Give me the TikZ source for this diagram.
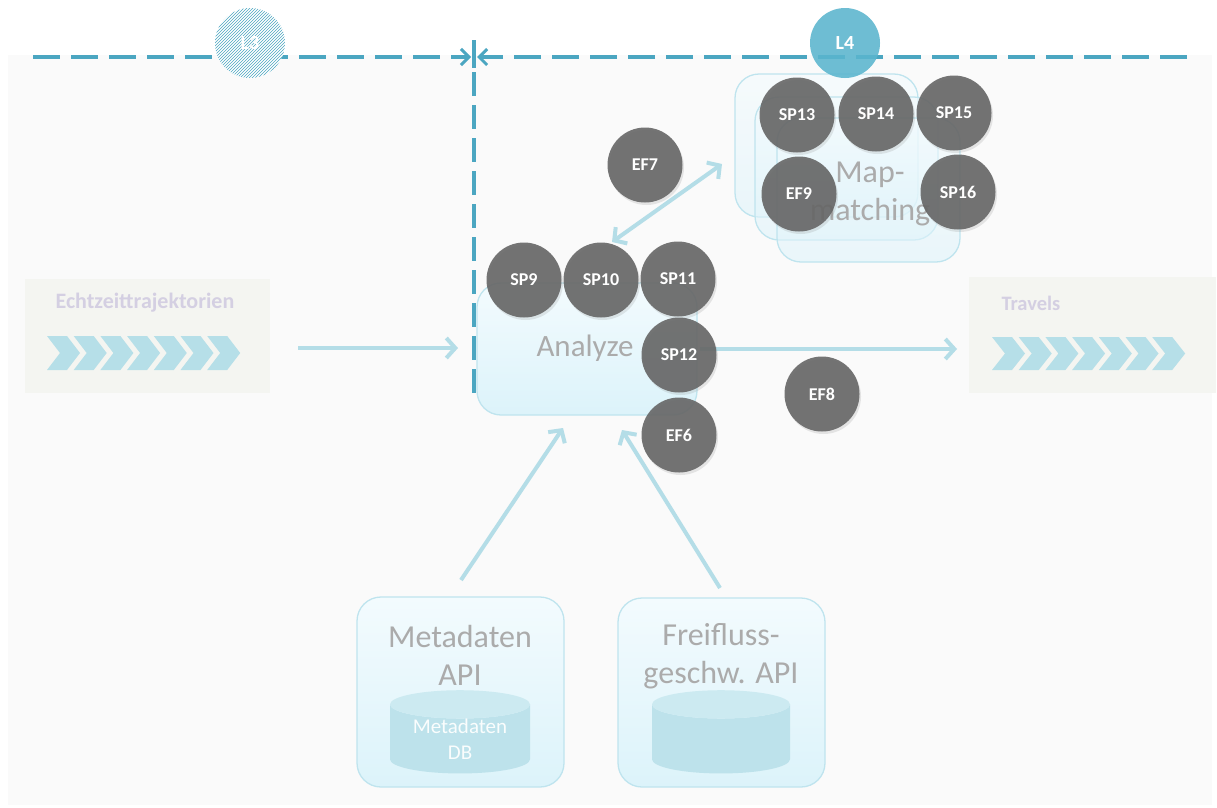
\documentclass[tikz,border=0pt]{standalone}
\usepackage{fontspec}
\setmainfont{Carlito}
\usetikzlibrary{arrows.meta,shapes.geometric,patterns,shadows}
\definecolor{dashcol}{HTML}{4BA6C1}
\definecolor{flow}{HTML}{B4DDE7}
\definecolor{dotgray}{HTML}{666666}
\definecolor{boxtop}{HTML}{F3FBFE}
\definecolor{boxbot}{HTML}{DCF3FA}
\definecolor{boxline}{HTML}{BFE4EE}
\definecolor{labgray}{HTML}{ABABAB}
\definecolor{panelcol}{HTML}{F4F5F1}
\definecolor{lav}{HTML}{D4CFE2}
\definecolor{chev}{HTML}{B6DFE8}
\definecolor{dbbody}{HTML}{BDE2EB}
\definecolor{dbtop}{HTML}{CCEAF1}
\definecolor{lfour}{HTML}{5AB5CE}
\definecolor{bgpanel}{HTML}{FAFAFA}
\begin{document}
\begin{tikzpicture}[x=1pt,y=-1pt,
  dot/.style={circle, minimum size=75pt, inner sep=0pt, fill=dotgray, fill opacity=0.9,
    text opacity=1, text=white, font=\bfseries\fontsize{18}{20}\selectfont,
    drop shadow={opacity=0.18, shadow xshift=1.5pt, shadow yshift=-2.5pt}},
  flowarrow/.style={draw=flow, line width=4pt, -{Straight Barb[length=9pt,width=20pt,line width=4pt]}},
  flowboth/.style={draw=flow, line width=4pt, {Straight Barb[length=9pt,width=20pt,line width=4pt]}-{Straight Barb[length=9pt,width=20pt,line width=4pt]}},
  dashline/.style={draw=dashcol, line width=4pt, dash pattern=on 27pt off 11pt},
  apibox/.style={rectangle, rounded corners=24pt, draw=boxline, line width=1.3pt, top color=boxtop, bottom color=boxbot, inner sep=0pt},
  mmbox/.style={apibox, fill opacity=0.55, minimum width=183pt, minimum height=143pt},
  bigtext/.style={text=labgray, align=center, font=\fontsize{32}{38}\selectfont},
  panelbox/.style={rectangle, fill=panelcol, inner sep=0pt},
  paneltext/.style={text=lav, anchor=west, font=\bfseries\fontsize{20.5}{23}\selectfont},
  db/.style={cylinder, shape border rotate=90, aspect=0.3, minimum width=140pt, minimum height=78pt,
    cylinder uses custom fill, cylinder body fill=dbbody, cylinder end fill=dbtop, inner sep=0pt,
    text=white!92!dbbody, align=center, font=\fontsize{21}{26}\selectfont},
]
\useasboundingbox (0,0) rectangle (1217,807);
\fill[white] (0,0) rectangle (1217,807);
\fill[bgpanel] (8,55) rectangle (1212,805);

% side panels
\node[panelbox, minimum width=245pt, minimum height=114pt] (inpanel) at (147.5,336) {};
\node[paneltext, font=\bfseries\fontsize{22}{24}\selectfont] (intext) at (52,303) {Echtzeittrajektorien};
\foreach \i in {0,...,6} {
  \fill[chev] (47+\i*26.7,336) -- ++(20,0) -- ++(13,17) -- ++(-13,17) -- ++(-20,0) -- ++(13,-17) -- cycle;
}
\node[panelbox, minimum width=247pt, minimum height=116pt] (outpanel) at (1092.5,335) {};
\node[paneltext] (outtext) at (998,303) {Travels};
\foreach \i in {0,...,6} {
  \fill[chev] (992+\i*26.7,337) -- ++(20,0) -- ++(13,16.5) -- ++(-13,16.5) -- ++(-20,0) -- ++(13,-16.5) -- cycle;
}

% boxes
\node[apibox, minimum width=220pt, minimum height=132pt] (analyze) at (587,349) {};
\node[bigtext, font=\fontsize{31}{36}\selectfont] (analyzetext) at (585,348) {Analyze};
\node[mmbox] (mm1) at (826.5,145.5) {};
\node[mmbox] (mm2) at (846.5,168.5) {};
\node[mmbox, minimum height=144pt] (mm3) at (868.5,190) {};
\node[bigtext] (mmtext) at (870,194) {Map-\\matching};

\node[apibox, minimum width=207pt, minimum height=190pt] (meta) at (460.5,692) {};
\node[bigtext] (metatext) at (460,655) {Metadaten\\API};
\node[db] (metadb) at (460,739) {Metadaten\\DB};
\node[apibox, minimum width=207pt, minimum height=189pt] (frei) at (721.5,692.5) {};
\node[bigtext] (freitext) at (721,656) {Freifluss-\\geschw. API};
\node[db, minimum width=138pt] (freidb) at (721,739) {\phantom{Metadaten}\\\phantom{DB}};

% flow arrows
\coordinate (inS) at (298,348);
\coordinate (inE) at (458,348);
\coordinate (outS) at (700,349);
\coordinate (outE) at (957,349);
\coordinate (mmS) at (612,242);
\coordinate (mmE) at (722,164);
\coordinate (m1S) at (461,580);
\coordinate (m1E) at (563,428);
\coordinate (f1S) at (720,588);
\coordinate (f1E) at (622,430);
\draw[flowarrow] (inS) -- (inE);
\draw[flowarrow] (outS) -- (outE);
\draw[flowboth] (mmS) -- (mmE);
\draw[flowarrow] (m1S) -- (m1E);
\draw[flowarrow] (f1S) -- (f1E);

% dashed layer lines
\coordinate (h1S) at (33,57);
\coordinate (h1E) at (471,57);
\coordinate (h2S) at (1187,57);
\coordinate (h2E) at (477,57);
\coordinate (vT) at (474,40);
\coordinate (vM) at (474,68);
\coordinate (vB) at (474,400);
\draw[dashline, -{Straight Barb[length=8pt,width=16pt,line width=3pt]}] (h1S) -- (h1E);
\draw[dashline, -{Straight Barb[length=8pt,width=16pt,line width=3pt]}] (h2S) -- (h2E);
\draw[draw=dashcol, line width=3.5pt] (vT) -- (vM);
\draw[dashline, dash pattern=on 24pt off 9pt, dash phase=-4pt] (vM) -- (vB);

% layer markers
\node[circle, minimum size=70pt, inner sep=0pt, preaction={fill=white}, pattern=north east lines, pattern color=dashcol,
  text=white, font=\bfseries\fontsize{20}{22}\selectfont] (l3) at (250,43) {L3};
\node[circle, minimum size=70pt, inner sep=0pt, fill=lfour, fill opacity=0.88, text opacity=1,
  text=white, font=\bfseries\fontsize{20}{22}\selectfont] (l4) at (845,43) {L4};

% dots
\node[dot] (sp9) at (524,280) {SP9};
\node[dot] (sp10) at (601,280) {SP10};
\node[dot] (sp11) at (678,279) {SP11};
\node[dot] (sp12) at (679,355) {SP12};
\node[dot] (ef6) at (679,435) {EF6};
\node[dot] (ef7) at (645,165) {EF7};
\node[dot] (ef8) at (822,394) {EF8};
\node[dot] (sp13) at (797,115) {SP13};
\node[dot] (sp14) at (876,114) {SP14};
\node[dot] (sp15) at (954,113) {SP15};
\node[dot] (ef9) at (799,194) {EF9};
\node[dot] (sp16) at (958,192) {SP16};
\end{tikzpicture}
\end{document}
